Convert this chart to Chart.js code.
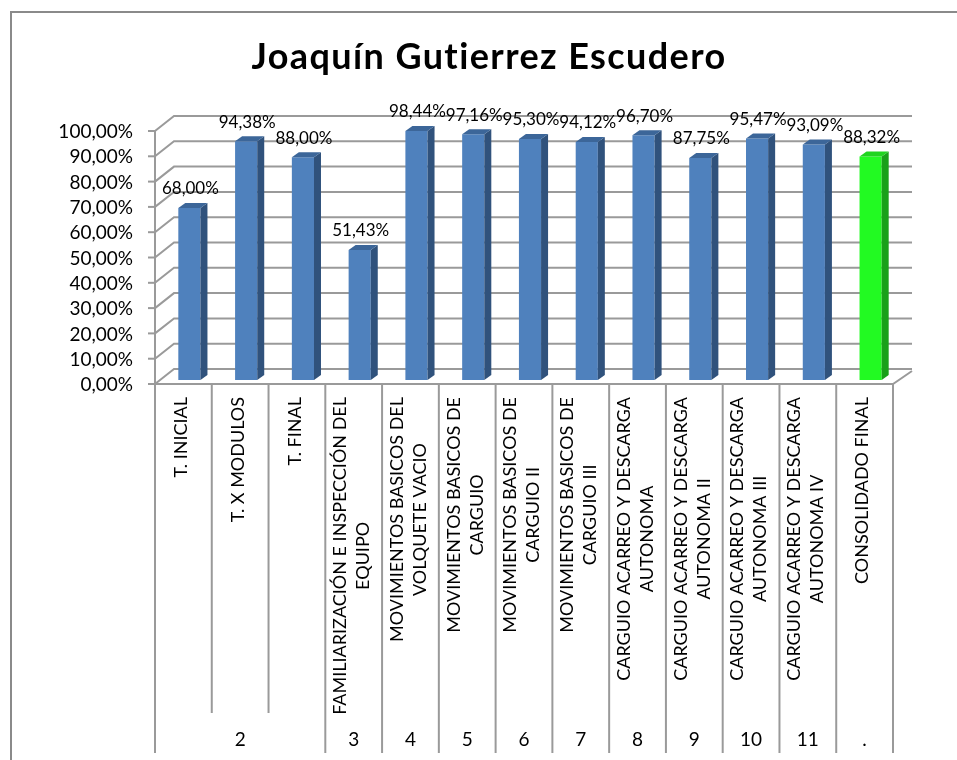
<!DOCTYPE html>
<html>
<head>
<meta charset="utf-8">
<script src="https://cdn.jsdelivr.net/npm/chart.js@4"></script>
<style>
  body { margin: 0; background: #fff; }
  canvas { display: block; }
</style>
</head>
<body>
<canvas id="chart" width="957" height="760"></canvas>
<script>
const title = "Joaquín Gutierrez Escudero";

const categories = [
  ["T. INICIAL"],
  ["T. X MODULOS"],
  ["T. FINAL"],
  ["FAMILIARIZACIÓN E INSPECCIÓN DEL", "EQUIPO"],
  ["MOVIMIENTOS BASICOS DEL", "VOLQUETE VACIO"],
  ["MOVIMIENTOS BASICOS DE", "CARGUIO"],
  ["MOVIMIENTOS BASICOS DE", "CARGUIO II"],
  ["MOVIMIENTOS BASICOS DE", "CARGUIO III"],
  ["CARGUIO ACARREO Y DESCARGA", "AUTONOMA"],
  ["CARGUIO ACARREO Y DESCARGA", "AUTONOMA II"],
  ["CARGUIO ACARREO Y DESCARGA", "AUTONOMA III"],
  ["CARGUIO ACARREO Y DESCARGA", "AUTONOMA IV"],
  ["CONSOLIDADO FINAL"]
];

const groups = ["2", "2", "2", "3", "4", "5", "6", "7", "8", "9", "10", "11", "."];

const values = [68.00, 94.38, 88.00, 51.43, 98.44, 97.16, 95.30, 94.12, 96.70, 87.75, 95.47, 93.09, 88.32];

const yTicks = [0, 10, 20, 30, 40, 50, 60, 70, 80, 90, 100];

const FONT = "Lato, 'Open Sans', sans-serif";
const GRID = "#9a9a9a";
const DEPTH_X = 19, DEPTH_Y = -15;   // back wall offset
const FACE_X = 6, FACE_Y = -4;       // bar front face offset
const BAR_X = 7, BAR_Y = -5;         // bar depth

const blue = { front: "#4f81bd", side: "#30527c", top: "#3c6699" };
const green = { front: "#22fa22", side: "#19a019", top: "#1fd41f" };
const palette = values.map((v, i) => (i === values.length - 1 ? green : blue));

function pct(v) {
  return v.toFixed(2).replace(".", ",") + "%";
}

const threeD = {
  id: "threeD",
  beforeDatasetsDraw(chart) {
    const { ctx, chartArea: a } = chart;
    const y = chart.scales.y;
    ctx.save();
    ctx.strokeStyle = GRID;
    ctx.lineWidth = 2;

    // back wall gridlines + diagonals from the front axis
    yTicks.forEach(t => {
      const py = y.getPixelForValue(t);
      ctx.beginPath();
      ctx.moveTo(a.left, py);
      ctx.lineTo(a.left + DEPTH_X, py + DEPTH_Y);
      ctx.lineTo(a.right + DEPTH_X, py + DEPTH_Y);
      ctx.stroke();
      // tick mark
      ctx.beginPath();
      ctx.moveTo(a.left - 7, py);
      ctx.lineTo(a.left, py);
      ctx.stroke();
    });

    // front axis + floor edge
    ctx.beginPath();
    ctx.moveTo(a.left, y.getPixelForValue(100));
    ctx.lineTo(a.left, a.bottom);
    ctx.lineTo(a.right, a.bottom);
    ctx.lineTo(a.right + DEPTH_X, a.bottom + DEPTH_Y + 2);
    ctx.stroke();

    // y tick labels
    ctx.fillStyle = "#000";
    ctx.font = "19px " + FONT;
    ctx.textAlign = "right";
    ctx.textBaseline = "middle";
    yTicks.forEach(t => {
      ctx.fillText(pct(t), a.left - 22, y.getPixelForValue(t) + 1);
    });
    ctx.restore();

    ctx.save();
    ctx.translate(FACE_X, FACE_Y);
  },
  afterDatasetsDraw(chart) {
    const { ctx } = chart;
    ctx.restore();
    const meta = chart.getDatasetMeta(0);
    ctx.save();
    ctx.translate(FACE_X, FACE_Y);
    meta.data.forEach((bar, i) => {
      const { x, y, base, width } = bar.getProps(["x", "y", "base", "width"], true);
      const l = x - width / 2, r = x + width / 2;
      ctx.fillStyle = palette[i].side;
      ctx.beginPath();
      ctx.moveTo(r, y);
      ctx.lineTo(r + BAR_X, y + BAR_Y);
      ctx.lineTo(r + BAR_X, base + BAR_Y);
      ctx.lineTo(r, base);
      ctx.closePath();
      ctx.fill();
      ctx.fillStyle = palette[i].top;
      ctx.beginPath();
      ctx.moveTo(l, y);
      ctx.lineTo(r, y);
      ctx.lineTo(r + BAR_X, y + BAR_Y);
      ctx.lineTo(l + BAR_X, y + BAR_Y);
      ctx.closePath();
      ctx.fill();
    });

    // value labels
    ctx.fillStyle = "#000";
    ctx.font = "17px " + FONT;
    ctx.textAlign = "center";
    ctx.textBaseline = "middle";
    meta.data.forEach((bar, i) => {
      const { x, y } = bar.getProps(["x", "y"], true);
      ctx.fillText(pct(values[i]), x + 1, y - 19);
    });
    ctx.restore();
  },
  afterDraw(chart) {
    const { ctx, chartArea: a } = chart;
    const xs = chart.scales.x;
    const step = (a.right - a.left) / categories.length;
    ctx.save();

    // frame
    ctx.strokeStyle = "#8a8a8a";
    ctx.lineWidth = 2;
    ctx.beginPath();
    ctx.moveTo(11, 760);
    ctx.lineTo(11, 12);
    ctx.lineTo(957, 12);
    ctx.stroke();

    // title
    ctx.fillStyle = "#000";
    ctx.font = "bold 36px " + FONT;
    ctx.letterSpacing = "1.4px";
    ctx.textAlign = "center";
    ctx.textBaseline = "alphabetic";
    ctx.fillText(title, 489, 69);
    ctx.letterSpacing = "0px";

    // category dividers
    ctx.strokeStyle = GRID;
    for (let i = 0; i <= categories.length; i++) {
      const px = a.left + i * step;
      const boundary = i === 0 || i === categories.length || groups[i] !== groups[i - 1];
      ctx.beginPath();
      ctx.moveTo(px, a.bottom);
      ctx.lineTo(px, boundary ? 753 : 713);
      ctx.stroke();
    }

    // rotated category labels
    ctx.font = "18px " + FONT;
    ctx.textBaseline = "middle";
    ctx.textAlign = "center";
    const lineH = 23;
    categories.forEach((lines, i) => {
      const cx = xs.getPixelForValue(i);
      const w = Math.max(...lines.map(s => ctx.measureText(s).width));
      ctx.save();
      ctx.translate(cx - 2 - (lines.length - 1) * lineH / 2, 397 + w / 2);
      ctx.rotate(-Math.PI / 2);
      lines.forEach((s, k) => ctx.fillText(s, 0, k * lineH));
      ctx.restore();
    });

    // group labels
    ctx.font = "19px " + FONT;
    let start = 0;
    for (let i = 1; i <= groups.length; i++) {
      if (i === groups.length || groups[i] !== groups[start]) {
        const gx = (xs.getPixelForValue(start) + xs.getPixelForValue(i - 1)) / 2;
        ctx.fillText(groups[start], gx, 740);
        start = i;
      }
    }
    ctx.restore();
  }
};

new Chart(document.getElementById("chart"), {
  type: "bar",
  data: {
    labels: categories,
    datasets: [{
      data: values,
      backgroundColor: palette.map(p => p.front),
      borderWidth: 0,
      categoryPercentage: 1,
      barPercentage: 0.39
    }]
  },
  options: {
    responsive: false,
    animation: false,
    layout: { padding: { left: 155, right: 64, top: 131, bottom: 376 } },
    scales: {
      x: { display: false },
      y: { display: false, min: 0, max: 100 }
    },
    plugins: {
      legend: { display: false },
      tooltip: { enabled: false },
      title: { display: false }
    }
  },
  plugins: [threeD]
});
</script>
</body>
</html>
